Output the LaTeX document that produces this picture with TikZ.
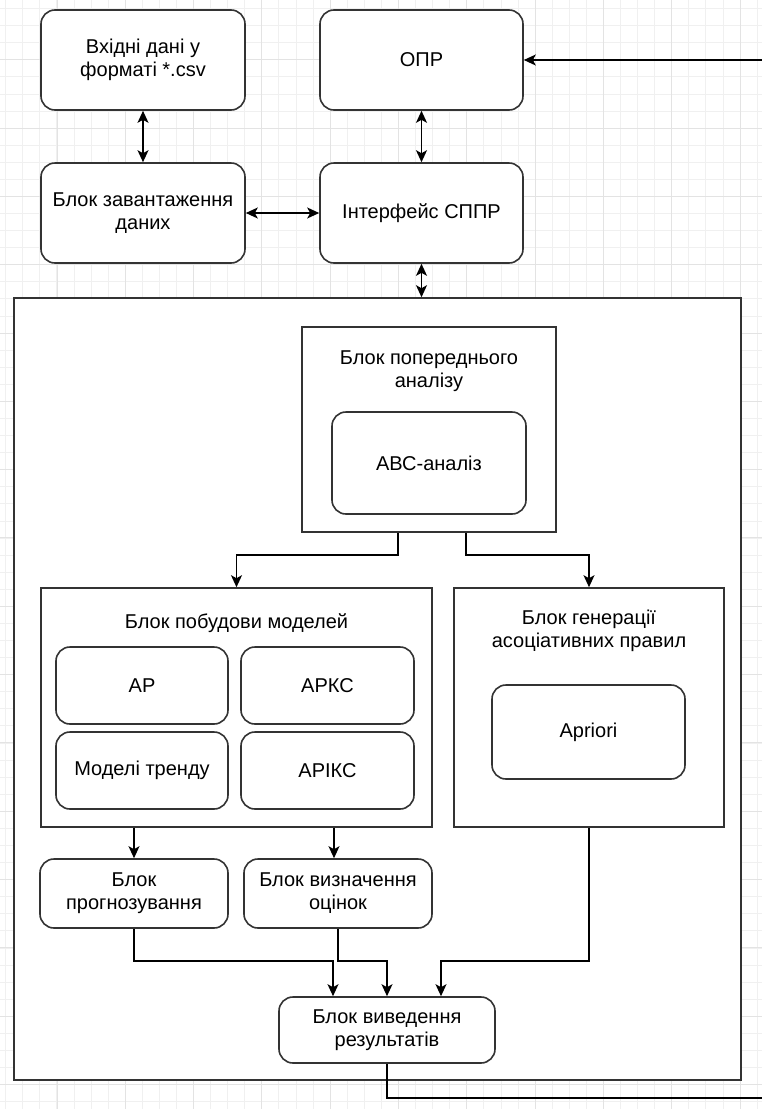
\documentclass[tikz,border=0pt]{standalone}
\usepackage{fontspec}
\setmainfont{Liberation Sans}
\usetikzlibrary{arrows.meta,positioning,calc}

\tikzset{
  blok/.style={draw=black!80, line width=1.6pt, rounded corners=14pt, fill=white,
    align=center, inner sep=2pt},
  ramka/.style={draw=black!80, line width=1.6pt, fill=white, inner sep=0pt},
  napys/.style={align=center, inner sep=0pt},
  zv/.style={line width=1.5pt, -{Stealth[length=12pt,width=11pt,inset=3pt]}},
  dv/.style={line width=1.5pt, {Stealth[length=12pt,width=11pt,inset=3pt]}-{Stealth[length=12pt,width=11pt,inset=3pt]}},
  lin/.style={line width=1.5pt},
  sitka/.style={draw=black!6, line width=0.8pt},
  sitkab/.style={draw=black!11, line width=0.8pt}
}

\begin{document}
\begin{tikzpicture}[x=1pt,y=-1pt, font=\fontsize{20}{23}\selectfont]
	\useasboundingbox (0,0) rectangle (762,1109);
	% background grid
	\foreach \gx in {0,...,44} \draw[sitka] ({5.6+17.08*\gx},0) -- ++(0,1109);
	\foreach \gy in {0,...,64} \draw[sitka] (0,{8.5+17.08*\gy}) -- ++(762,0);
	\foreach \gx in {0,...,11} \draw[sitkab] ({-11.4+68.3*\gx},0) -- ++(0,1109);
	\foreach \gy in {0,...,16} \draw[sitkab] (0,{-8.6+68.3*\gy}) -- ++(762,0);
	
	% top blocks
	\node[blok, minimum width=204pt, minimum height=100pt] (csv) at (143,60) {Вхідні дані у\\форматі *.csv};
	\node[blok, minimum width=203pt, minimum height=100pt] (opr) at (421.5,60) {ОПР};
	\node[blok, minimum width=204pt, minimum height=100pt] (load) at (143,213) {Блок завантаження\\даних};
	\node[blok, minimum width=203pt, minimum height=100pt] (iface) at (421.5,213) {Інтерфейс СППР};
	
	% system frame
	\node[ramka, minimum width=727pt, minimum height=782pt] (sys) at (377.5,689) {};
	
	% preliminary analysis
	\node[ramka, minimum width=254pt, minimum height=205pt] (pre) at (429,429.5) {};
	\node[napys] (pretitle) at (429,371) {Блок попереднього\\аналізу};
	\node[blok, minimum width=194pt, minimum height=102pt] (abc) at (429,463) {АВС-аналіз};
	
	% model building
	\node[ramka, minimum width=391pt, minimum height=239pt] (build) at (236.5,707.5) {};
	\node[napys] (buildtitle) at (236.5,623) {Блок побудови моделей};
	\node[blok, minimum width=172pt, minimum height=77pt] (ar) at (142,685.5) {АР};
	\node[blok, minimum width=173pt, minimum height=77pt] (arkc) at (327.5,685.5) {АРКС};
	\node[blok, minimum width=172pt, minimum height=77pt] (trend) at (142,770.5) {Моделі тренду};
	\node[blok, minimum width=173pt, minimum height=77pt] (arikc) at (327.5,770.5) {АРІКС};
	
	% association rules
	\node[ramka, minimum width=270pt, minimum height=239pt] (gen) at (589,707.5) {};
	\node[napys] (gentitle) at (589,631) {Блок генерації\\асоціативних правил};
	\node[blok, minimum width=193pt, minimum height=94pt] (apriori) at (588.5,732) {Apriori};
	
	% lower blocks
	\node[blok, minimum width=188pt, minimum height=69pt] (forecast) at (134,893.5) {Блок\\прогнозування};
	\node[blok, minimum width=188pt, minimum height=69pt] (est) at (338,893.5) {Блок визначення\\оцінок};
	\node[blok, minimum width=216pt, minimum height=66pt] (out) at (387,1030) {Блок виведення\\результатів};
	
	% free ends
	\coordinate (vhid) at (762,60);
	\coordinate (vyhid) at (762,1098);
	
	% connectors
	\draw[dv] (csv) -- (load);
	\draw[dv] (opr) -- (iface);
	\draw[dv] (load) -- (iface);
	\draw[dv] (iface.south) -- (iface.south |- sys.north);
	\draw[zv] (vhid) -- (opr.east);
	\draw[zv] ([xshift=-31pt]pre.south) -- ++(0,22) -| (build.north);
	\draw[zv] ([xshift=37pt]pre.south) -- ++(0,22) -| (gen.north);
	\draw[zv] (forecast.north |- build.south) -- (forecast.north);
	\draw[zv] ([xshift=-4pt]est.north |- build.south) -- ([xshift=-4pt]est.north);
	\draw[zv] (forecast.south) |- ([xshift=-54pt,yshift=35pt]out.north) -- ([xshift=-54pt]out.north);
	\draw[zv] (est.south) |- ([yshift=35pt]out.north) -- (out.north);
	\draw[zv] (gen.south) |- ([xshift=54pt,yshift=35pt]out.north) -- ([xshift=54pt]out.north);
	\draw[lin] (out.south) |- (vyhid);
\end{tikzpicture}
\end{document}
